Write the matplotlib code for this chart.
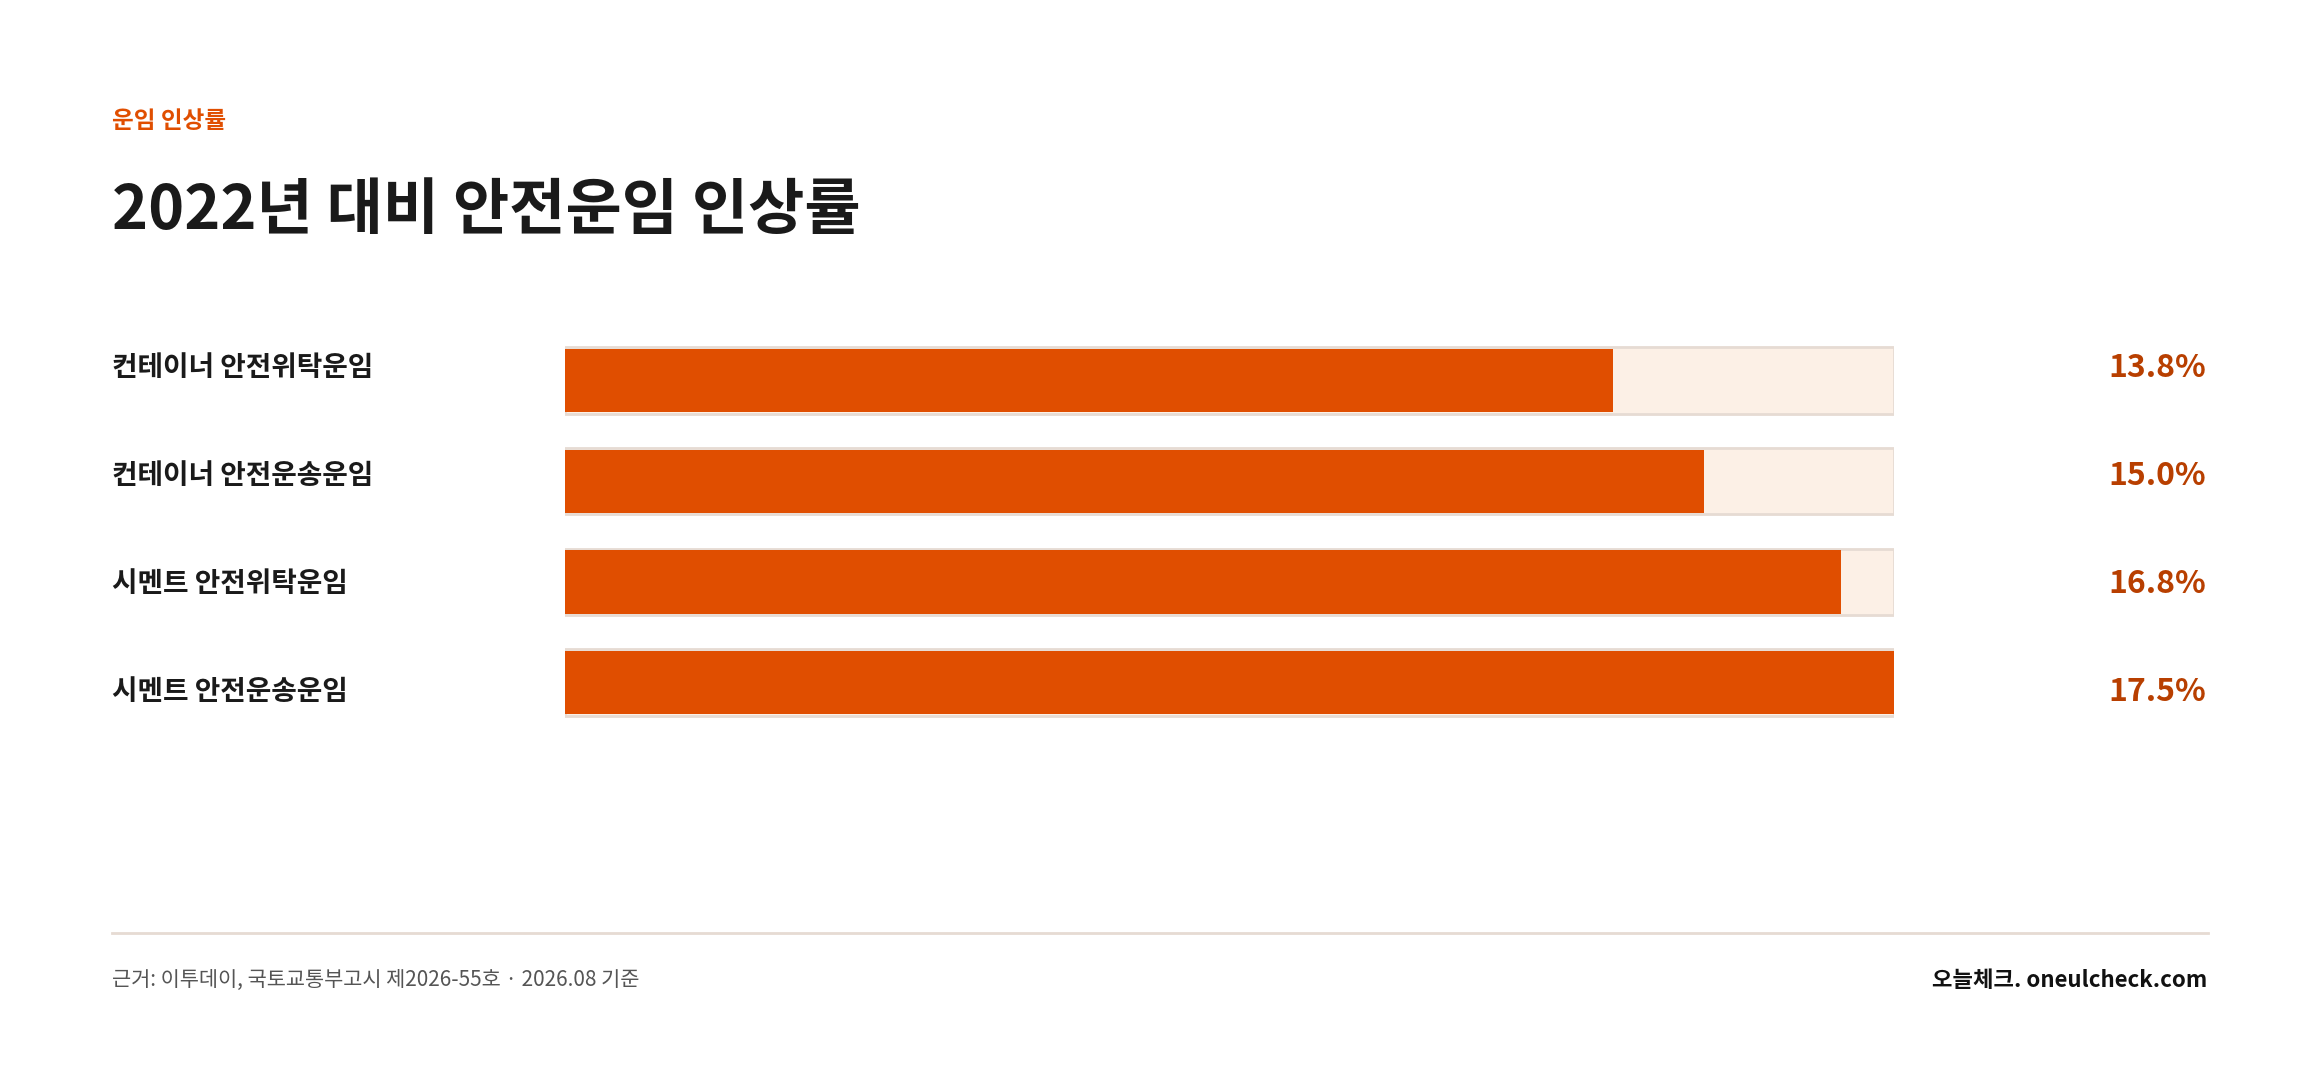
import matplotlib
matplotlib.use("Agg")
import matplotlib.pyplot as plt
from matplotlib.patches import Rectangle

plt.rcParams['font.family'] = ['Noto Sans CJK KR', 'DejaVu Sans']

categories = ["컨테이너 안전위탁운임", "컨테이너 안전운송운임", "시멘트 안전위탁운임", "시멘트 안전운송운임"]
values = [13.8, 15.0, 16.8, 17.5]
value_labels = ["13.8%", "15.0%", "16.8%", "17.5%"]

W, H = 2320, 1078
fig = plt.figure(figsize=(W/100, H/100), dpi=100)
fig.patch.set_facecolor("white")

def fx(x): return x/1568
def fy(y): return 1 - y/729

vmax = max(values)
ax = fig.add_axes([fx(382), fy(497), fx(1280)-fx(382), fy(222)-fy(497)])
ax.set_xlim(0, vmax)
n = len(categories)
ax.set_ylim(n - 0.5 + 0.02, -0.5 - 0.02)
ax.axis("off")
h = 0.66
for i, v in enumerate(values):
    ax.add_patch(Rectangle((0, i - h/2), vmax, h, facecolor="#FCF0E6", edgecolor="#E6DBD3", linewidth=2, zorder=1))
    ax.barh(i, v, height=h - 0.03, color="#E04E00", zorder=2)

ycent = [249, 322, 395, 468]
for i, c in enumerate(categories):
    fig.text(fx(76), fy(ycent[i]), c, fontsize=20, fontweight="bold", color="#1a1a1a", va="center", ha="left")
    fig.text(fx(1491), fy(ycent[i]), value_labels[i], fontsize=23, fontweight="bold", color="#B83F00", va="center", ha="right")

fig.text(fx(76), fy(82), "운임 인상률", fontsize=17, fontweight="bold", color="#E04E00", va="center", ha="left")
fig.text(fx(76), fy(143), "2022년 대비 안전운임 인상률", fontsize=44, fontweight="bold", color="#1a1a1a", va="center", ha="left")

fig.add_artist(plt.Line2D([fx(76), fx(1492)], [fy(631), fy(631)], color="#E6DBD3", linewidth=2))
fig.text(fx(76), fy(663), "근거: 이투데이, 국토교통부고시 제2026-55호 · 2026.08 기준", fontsize=15, color="#555555", va="center", ha="left")
fig.text(fx(1492), fy(663), "오늘체크. oneulcheck.com", fontsize=16, fontweight="bold", color="#111111", va="center", ha="right")

fig.savefig("out.png", dpi=100, facecolor="white")
